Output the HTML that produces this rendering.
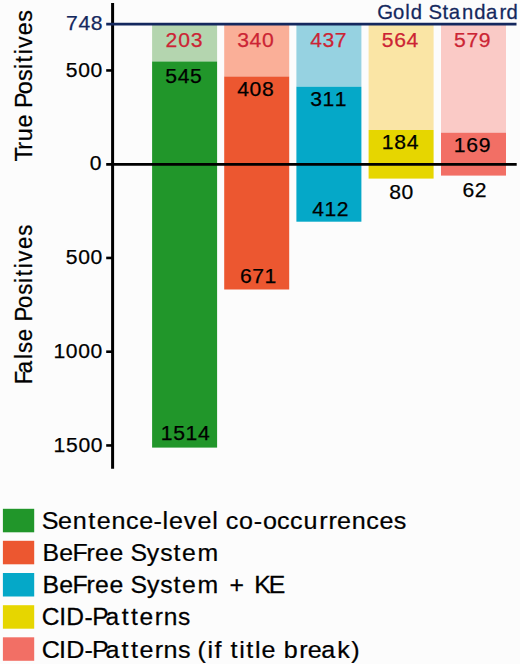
<!DOCTYPE html>
<html><head><meta charset="utf-8"><style>
html,body{margin:0;padding:0;background:#fcfcfc;}
body{width:520px;height:664px;overflow:hidden;}
svg{display:block;font-family:"Liberation Sans",sans-serif;}
</style></head><body>
<svg width="520" height="664" viewBox="0 0 520 664">
<rect width="520" height="664" fill="#fcfcfc"/>
<rect x="152.1" y="24.1" width="65.0" height="37.40" fill="#b4d5af"/>
<rect x="152.1" y="61.5" width="65.0" height="386.10" fill="#21962a"/>
<rect x="224.2" y="24.1" width="65.0" height="52.40" fill="#faaf98"/>
<rect x="224.2" y="76.5" width="65.0" height="213.00" fill="#ec5730"/>
<rect x="296.4" y="24.1" width="65.0" height="62.60" fill="#96d2e1"/>
<rect x="296.4" y="86.7" width="65.0" height="135.00" fill="#05a8c8"/>
<rect x="368.6" y="24.1" width="65.0" height="105.90" fill="#fae5a5"/>
<rect x="368.6" y="130.0" width="65.0" height="48.60" fill="#e6d600"/>
<rect x="441.0" y="24.1" width="65.0" height="108.60" fill="#facac6"/>
<rect x="441.0" y="132.7" width="65.0" height="42.90" fill="#f26f65"/>
<text transform="scale(1.0000,1)" x="165.60 178.23 190.64" y="46.98" font-size="21.14" fill="#cc2434" stroke="#cc2434" stroke-width="0.250">203</text>
<text transform="scale(1.0000,1)" x="237.28 249.62 262.00" y="46.98" font-size="21.14" fill="#cc2434" stroke="#cc2434" stroke-width="0.250">340</text>
<text transform="scale(1.0000,1)" x="310.15 322.55 334.86" y="46.98" font-size="21.14" fill="#cc2434" stroke="#cc2434" stroke-width="0.250">437</text>
<text transform="scale(1.0000,1)" x="381.76 394.21 406.59" y="46.98" font-size="21.14" fill="#cc2434" stroke="#cc2434" stroke-width="0.250">564</text>
<text transform="scale(1.0000,1)" x="454.00 466.41 478.76" y="46.98" font-size="21.14" fill="#cc2434" stroke="#cc2434" stroke-width="0.250">579</text>
<text transform="scale(1.0000,1)" x="165.37 177.82 190.12" y="82.57" font-size="21.14" fill="#000" stroke="#000" stroke-width="0.250">545</text>
<text transform="scale(1.0000,1)" x="237.13 249.51 261.88" y="95.73" font-size="21.14" fill="#000" stroke="#000" stroke-width="0.250">408</text>
<text transform="scale(1.0000,1)" x="310.23 322.46 334.83" y="105.93" font-size="21.14" fill="#000" stroke="#000" stroke-width="0.250">311</text>
<text transform="scale(1.0000,1)" x="381.81 394.29 406.67" y="149.28" font-size="21.14" fill="#000" stroke="#000" stroke-width="0.250">184</text>
<text transform="scale(1.0000,1)" x="453.84 466.33 478.64" y="152.18" font-size="21.14" fill="#000" stroke="#000" stroke-width="0.250">169</text>
<text transform="scale(1.0000,1)" x="160.72 173.13 185.47 197.96" y="440.07" font-size="21.14" fill="#000" stroke="#000" stroke-width="0.250">1514</text>
<text transform="scale(1.0000,1)" x="239.96 252.30 264.60" y="283.08" font-size="21.14" fill="#000" stroke="#000" stroke-width="0.250">671</text>
<text transform="scale(1.0000,1)" x="312.14 324.40 336.63" y="216.03" font-size="21.14" fill="#000" stroke="#000" stroke-width="0.250">412</text>
<text transform="scale(1.0000,1)" x="389.16 401.54" y="199.38" font-size="21.14" fill="#000" stroke="#000" stroke-width="0.250">80</text>
<text transform="scale(1.0000,1)" x="462.57 474.69" y="196.68" font-size="21.14" fill="#000" stroke="#000" stroke-width="0.250">62</text>
<line x1="112.6" y1="3" x2="112.6" y2="468.8" stroke="#000" stroke-width="3"/>
<line x1="106.2" y1="164.45" x2="516.7" y2="164.45" stroke="#000" stroke-width="2.8"/>
<line x1="106.2" y1="24.1" x2="516.5" y2="24.1" stroke="#14285e" stroke-width="2.6"/>
<line x1="106.2" y1="70.45" x2="112.6" y2="70.45" stroke="#000" stroke-width="2.6"/>
<line x1="106.2" y1="257.95" x2="112.6" y2="257.95" stroke="#000" stroke-width="2.6"/>
<line x1="106.2" y1="351.70" x2="112.6" y2="351.70" stroke="#000" stroke-width="2.6"/>
<line x1="106.2" y1="445.45" x2="112.6" y2="445.45" stroke="#000" stroke-width="2.6"/>
<text transform="scale(1.0000,1)" x="66.07 78.48 90.86" y="30.13" font-size="21.14" fill="#14285e" stroke="#14285e" stroke-width="0.250">748</text>
<text transform="scale(1.0000,1)" x="65.80 78.25 90.62" y="76.73" font-size="21.14" fill="#000000" stroke="#000000" stroke-width="0.250">500</text>
<text transform="scale(1.0000,1)" x="89.82" y="169.98" font-size="21.14" fill="#000000" stroke="#000000" stroke-width="0.250">0</text>
<text transform="scale(1.0000,1)" x="65.80 78.25 90.62" y="264.23" font-size="21.14" fill="#000000" stroke="#000000" stroke-width="0.250">500</text>
<text transform="scale(1.0000,1)" x="53.38 65.87 78.25 90.62" y="358.38" font-size="21.14" fill="#000000" stroke="#000000" stroke-width="0.250">1000</text>
<text transform="scale(1.0000,1)" x="53.58 66.00 78.45 90.82" y="452.13" font-size="21.14" fill="#000000" stroke="#000000" stroke-width="0.250">1500</text>
<text transform="scale(0.9835,1)" x="383.48 399.67 412.02 417.59 430.13 435.76 449.91 456.40 469.68 482.21 494.09 507.79 515.09" y="18.80" font-size="20.65" fill="#14285e" stroke="#14285e" stroke-width="0.254">Gold Standard</text>
<text transform="rotate(-90) scale(1.0100,1)" x="-159.91 -148.32 -139.93 -126.18 -112.79 -106.86 -93.42 -80.22 -68.41 -61.80 -53.75 -47.47 -34.87 -21.67" y="31.70" font-size="23.16" fill="#000" stroke="#000" stroke-width="0.248">True Positives</text>
<text transform="rotate(-90) scale(0.9539,1)" x="-402.77 -391.33 -376.29 -370.10 -357.70 -343.71 -337.15 -323.02 -309.09 -296.77 -289.72 -281.25 -274.40 -261.03 -247.10" y="31.70" font-size="23.16" fill="#000" stroke="#000" stroke-width="0.262">False Positives</text>
<rect x="2.9" y="508.8" width="31.3" height="23.5" fill="#21962a"/>
<text transform="scale(1.0140,1)" x="41.27 57.15 71.72 87.01 95.42 109.99 124.16 137.38 151.48 160.30 166.62 181.35 194.77 209.28 215.54 222.62 235.76 250.30 259.31 273.27 286.09 299.43 314.87 324.05 332.35 346.92 361.08 374.30 388.37" y="529.10" font-size="24.79" fill="#000" stroke="#000" stroke-width="0.247">Sentence-level co-occurrences</text>
<rect x="2.9" y="540.8" width="31.3" height="23.5" fill="#ec5730"/>
<text transform="scale(1.0010,1)" x="42.35 59.19 72.48 86.36 94.79 109.32 123.75 130.30 146.73 160.05 173.36 181.92 197.28" y="561.10" font-size="24.79" fill="#000" stroke="#000" stroke-width="0.250">BeFree System</text>
<rect x="2.9" y="573.0" width="31.3" height="23.5" fill="#05a8c8"/>
<text transform="scale(1.0003,1)" x="42.39 59.24 72.54 86.43 94.87 109.41 123.85 130.41 146.85 160.18 173.50 182.06 197.44 219.53 229.40 246.86 254.07 268.69" y="593.30" font-size="24.79" fill="#000" stroke="#000" stroke-width="0.250">BeFree System + KE</text>
<rect x="2.9" y="605.2" width="31.3" height="23.5" fill="#e6d600"/>
<text transform="scale(0.9910,1)" x="42.24 59.73 66.97 85.25 93.01 106.52 122.80 132.15 140.83 156.27 165.13 179.72" y="625.50" font-size="24.79" fill="#000" stroke="#000" stroke-width="0.252">CID-Patterns</text>
<rect x="2.9" y="637.3" width="31.3" height="23.5" fill="#f26f65"/>
<text transform="scale(1.0129,1)" x="41.13 58.36 65.32 83.31 90.81 104.06 120.07 129.22 137.64 152.79 161.42 175.71 188.09 195.05 204.86 211.81 219.33 227.56 236.14 243.20 251.77 258.11 272.40 280.22 295.50 303.80 317.21 332.88 346.72" y="657.60" font-size="24.79" fill="#000" stroke="#000" stroke-width="0.247">CID-Patterns (if title break)</text>
</svg>
</body></html>
